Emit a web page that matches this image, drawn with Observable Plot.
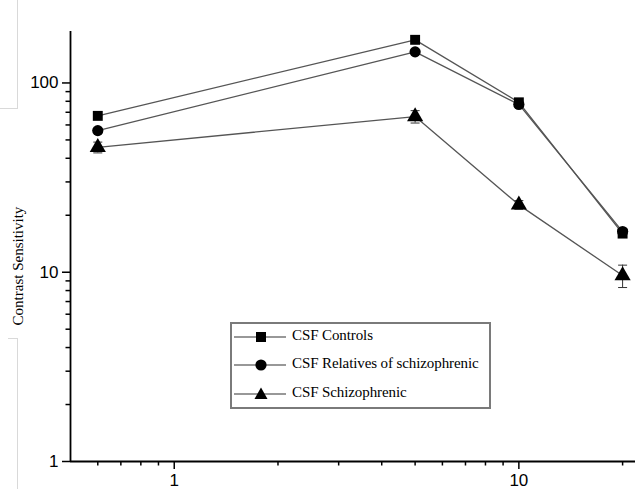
<!DOCTYPE html>
<html><head><meta charset="utf-8">
<script src="https://cdn.jsdelivr.net/npm/d3@7"></script>
<script src="https://cdn.jsdelivr.net/npm/@observablehq/plot@0.6"></script>
<style>
body{margin:0;background:#fff;}
#wrap{position:relative;width:635px;height:489px;overflow:hidden;background:#fff;}
#wrap svg{position:absolute;left:0;top:0;}
#legend{position:absolute;left:230px;top:322px;width:257px;height:83px;border:2px solid #7a7a7a;background:#fff;font-family:"Liberation Serif","Times New Roman",serif;font-size:15px;color:#000;}
.row{position:absolute;left:0;height:22px;}
.row svg{position:absolute;left:3px;top:0;}
.row span{position:absolute;left:60px;top:1px;white-space:nowrap;letter-spacing:-0.1px;}
#ylab{position:absolute;left:18px;top:266px;transform:translate(-50%,-50%) rotate(-90deg);font-family:"Liberation Serif","Times New Roman",serif;font-size:15px;white-space:nowrap;color:#000;}
.art{position:absolute;background:#d9d9d9;}
</style></head><body><div id="wrap"></div>
<script>
// ---- data ----
const frequency = [0.6, 5, 10, 20];
const controls = [67, 169, 79, 16];
const relatives = [56, 146, 77, 16.4];
const schizophrenic = [45.7, 66.4, 22.7, 9.6];
const schizophrenicError = [3, 5, 1.2, 1.3];
const seriesNames = ["CSF Controls", "CSF Relatives of schizophrenic", "CSF Schizophrenic"];
const seriesSymbols = ["square", "circle", "triangle"];
const xMajorTicks = [1, 10];
const xMinorTicks = [0.6, 0.7, 0.8, 0.9, 2, 3, 4, 5, 6, 7, 8, 9, 20];
const yMajorTicks = [1, 10, 100];
const yMinorTicks = [2, 3, 4, 5, 6, 7, 8, 9, 20, 30, 40, 50, 60, 70, 80, 90];
const xDomain = [0.5, 21.8];
const yDomain = [1, 187];
const yLabel = "Contrast Sensitivity";

// ---- tables built from the arrays ----
const seriesValues = [controls, relatives, schizophrenic];
const rows = [];
seriesNames.forEach((name, i) => frequency.forEach((f, j) => rows.push({series: name, x: f, y: seriesValues[i][j]})));
const errRows = frequency.map((f, j) => ({x: f, lo: schizophrenic[j] - schizophrenicError[j], hi: schizophrenic[j] + schizophrenicError[j]}));
const capRows = errRows.flatMap(d => [{x: d.x, y: d.lo}, {x: d.x, y: d.hi}]);

const capSymbol = {draw(context, size) { const w = 4.5; context.moveTo(-w, 0); context.lineTo(w, 0); }};
const markerR = {"square": 5.6, "circle": 5.6, "triangle": 6};

const dotMarks = seriesNames.map((name, i) =>
  Plot.dot(rows.filter(d => d.series === name), {x: "x", y: "y", symbol: seriesSymbols[i], r: markerR[seriesSymbols[i]], fill: "#000", stroke: "none"})
);

const chart = Plot.plot({
  width: 635, height: 489,
  marginLeft: 70, marginRight: 0, marginTop: 31, marginBottom: 28,
  x: {type: "log", domain: xDomain},
  y: {type: "log", domain: yDomain},
  style: {fontFamily: '"Liberation Sans", Arial, sans-serif', fontSize: "17px", color: "#000", background: "transparent"},
  marks: [
    Plot.axisX(xMajorTicks, {tickSize: 8, tickPadding: 4, tickFormat: d => String(d), strokeWidth: 1.5, label: null}),
    Plot.axisX(xMinorTicks, {tickSize: 4.5, tickFormat: () => "", strokeWidth: 1.5, label: null}),
    Plot.axisY(yMajorTicks, {tickSize: 8, tickPadding: 4, tickFormat: d => String(d), strokeWidth: 1.5, label: null}),
    Plot.axisY(yMinorTicks, {tickSize: 4.5, tickFormat: () => "", strokeWidth: 1.5, label: null}),
    Plot.ruleX([xDomain[0]], {stroke: "#000", strokeWidth: 1.8}),
    Plot.ruleY([yDomain[0]], {stroke: "#000", strokeWidth: 1.8}),
    Plot.line(rows, {x: "x", y: "y", z: "series", stroke: "#555", strokeWidth: 1.3}),
    Plot.ruleX(errRows, {x: "x", y1: "lo", y2: "hi", stroke: "#333", strokeWidth: 1}),
    Plot.dot(capRows, {x: "x", y: "y", symbol: capSymbol, stroke: "#333", strokeWidth: 1, fill: "none"}),
    ...dotMarks
  ]
});

const wrap = document.getElementById("wrap");
// faint scan artifacts at the left edge of the reference
[[17, 0, 1.2, 108], [0, 108, 18, 1.2], [17, 338, 1.2, 151], [8, 338, 10, 1.2]].forEach(([l, t, w, h]) => {
  const a = document.createElement("div"); a.className = "art";
  a.style.left = l + "px"; a.style.top = t + "px"; a.style.width = w + "px"; a.style.height = h + "px";
  wrap.appendChild(a);
});
wrap.appendChild(chart);

const yl = document.createElement("div"); yl.id = "ylab"; yl.textContent = yLabel; wrap.appendChild(yl);

// legend
const legend = document.createElement("div"); legend.id = "legend";
const symPaths = {
  square: '<rect x="24" y="6" width="10" height="10" fill="#000"/>',
  circle: '<circle cx="29" cy="11" r="5.6" fill="#000"/>',
  triangle: '<path d="M29,4.5 L35.5,16 L22.5,16 Z" fill="#000"/>'
};
const rowTops = [2, 30, 59];
seriesNames.forEach((name, i) => {
  const r = document.createElement("div"); r.className = "row"; r.style.top = rowTops[i] + "px";
  r.innerHTML = `<svg width="58" height="22"><line x1="2" x2="54" y1="11" y2="11" stroke="#333" stroke-width="1.2"/>${symPaths[seriesSymbols[i]]}</svg><span>${name}</span>`;
  legend.appendChild(r);
});
wrap.appendChild(legend);
</script>
</body></html>
